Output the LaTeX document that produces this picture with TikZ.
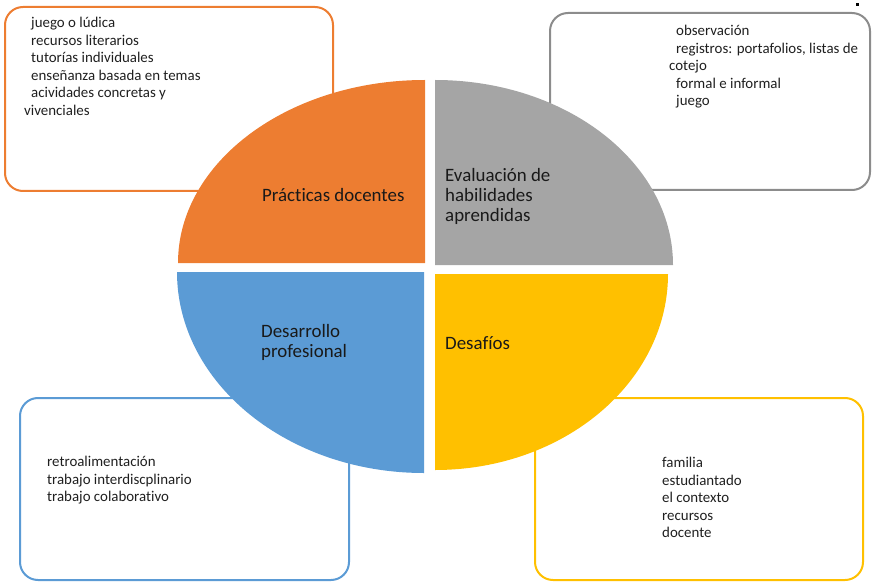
\documentclass[tikz,border=0pt]{standalone}
\usepackage{fontspec}
\setmainfont{Carlito}[Ligatures={NoCommon}]
\usepackage{tikz}

\definecolor{naranja}{HTML}{ED7D31}
\definecolor{gris}{HTML}{A5A5A5}
\definecolor{azul}{HTML}{5B9BD5}
\definecolor{amarillo}{HTML}{FFC000}

\tikzset{
  caja/.style={rounded corners=18pt, line width=2pt},
  lista/.style={anchor=north west, inner sep=0pt, align=left, text=black!88,
    font=\fontsize{14.9}{17.5}\selectfont},
  rotulo/.style={anchor=west, inner sep=0pt, align=left, text=black!90,
    font=\fontsize{18.9}{20}\selectfont},
}
\newcommand{\sangria}{\hspace*{7pt}}

\begin{document}
\begin{tikzpicture}[x=1pt, y=1pt]
            \useasboundingbox (0, 0) rectangle (872, 582);
            % cajas
            \draw[caja, naranja] (5, 391) rectangle (333, 575);
            \draw[caja, gris!85!black] (550, 392) rectangle (870, 569);
            \draw[caja, azul] (20, 2) rectangle (349, 184);
            \draw[caja, amarillo] (535, 2) rectangle (863, 184);
            % cuadrantes
            \coordinate (po) at (425, 319);
            \coordinate (pg) at (435, 317);
            \coordinate (pa) at (424, 310);
            \coordinate (py) at (435, 308);
            \fill[naranja] (po) -- ++(-247, 0) arc[start angle=180, end angle=90, x radius=247, y radius=183] -- cycle;
            \fill[gris] (pg) -- ++(0, 185) arc[start angle=90, end angle=0, x radius=238, y radius=185] -- cycle;
            \fill[azul] (pa) -- ++(0, -201) arc[start angle=270, end angle=180, x radius=247, y radius=201] -- cycle;
            \fill[amarillo] (py) -- ++(233, 0) arc[start angle=0, end angle=-90, x radius=233, y radius=196] -- cycle;
            % rotulos
            \node[rotulo] (practicas) at (262, 387) {Prácticas docentes};
            \node[rotulo] (evaluacion) at (445, 386) {Evaluación de\\habilidades\\aprendidas};
            \node[rotulo] (desarrollo) at (261, 240) {Desarrollo\\profesional};
            \node[rotulo] (desafios) at (445, 239) {Desafíos};
            % listas
            \node[lista] (lpracticas) at (24, 565) {\sangria juego o lúdica\\\sangria recursos literarios\\\sangria tutorías individuales\\\sangria enseñanza basada en temas\\\sangria acividades concretas y\\vivenciales};
            \node[lista] (levaluacion) at (669, 557) {\sangria observación\\\sangria registros: portafolios, listas de\\cotejo\\\sangria formal e informal\\\sangria juego};
            \node[lista] (ldesarrollo) at (47, 126) {retroalimentación\\trabajo interdiscplinario\\trabajo colaborativo};
            \node[lista] (ldesafios) at (662, 125) {familia\\estudiantado\\el contexto\\recursos\\docente};
            \fill[black] (856, 576) rectangle (858.5, 579);
        \end{tikzpicture}
\end{document}
